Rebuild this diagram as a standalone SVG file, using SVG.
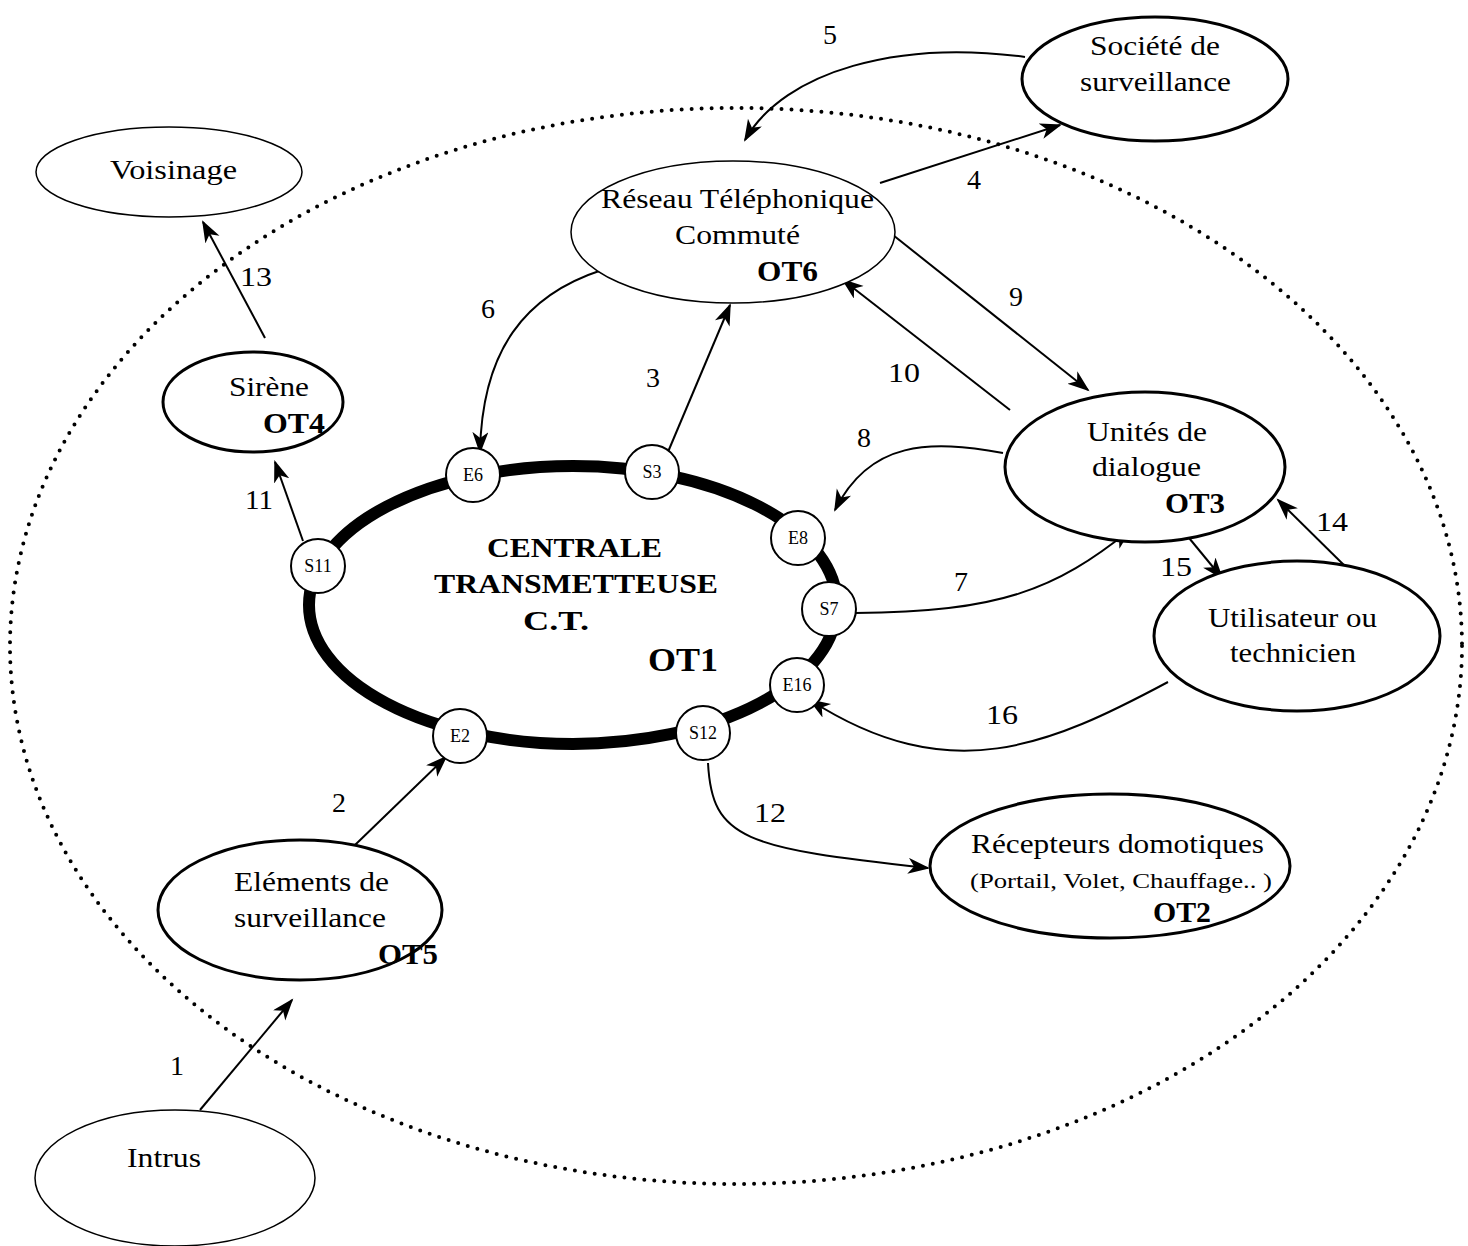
<svg xmlns="http://www.w3.org/2000/svg" width="1468" height="1246" viewBox="0 0 1468 1246">
<style>
text{font-family:"Liberation Serif","Times New Roman",serif;fill:#000;}
.t{font-size:28px;}
.b{font-size:29px;font-weight:bold;}
.p{font-size:18px;text-anchor:middle;}
.n{stroke:#000;fill:#fff;}
.thin{stroke-width:1.5;}
.thick{stroke-width:3;}
.c{fill:none;stroke:#000;stroke-width:2;marker-end:url(#ah);}
.port{fill:#fff;stroke:#000;stroke-width:2;}
</style>
<defs>
<marker id="ah" markerUnits="userSpaceOnUse" markerWidth="24" markerHeight="18" refX="20" refY="8" orient="auto">
<path d="M0,0 L22,8 L0,16 L6,8 z" fill="#000"/>
</marker>
</defs>
<rect width="1468" height="1246" fill="#fff"/>
<ellipse cx="736" cy="646" rx="726" ry="538" fill="none" stroke="#000" stroke-width="4" stroke-dasharray="0 10" stroke-linecap="round"/>

<g id="connectors">
<path class="c" d="M200,1110 L292,1000"/>
<path class="c" d="M355,845 L446,757"/>
<path class="c" d="M265,338 L203,222"/>
<path class="c" d="M303,541 L275,462"/>
<path class="c" d="M602,270 C525,295 482,350 480,452"/>
<path class="c" d="M665,459 L730,305"/>
<path class="c" d="M1025,57 C900,40 785,70 745,140"/>
<path class="c" d="M880,183 L1060,125"/>
<path class="c" d="M893,235 L1088,390"/>
<path class="c" d="M1010,410 L843,280"/>
<path class="c" d="M1003,453 C930,440 870,440 835,510"/>
<path class="c" d="M855,613 C1000,612 1055,590 1130,530"/>
<path class="c" d="M1180,527 L1222,578"/>
<path class="c" d="M1352,573 L1278,500"/>
<path class="c" d="M1168,682 C1050,745 950,790 810,700"/>
<path class="c" d="M708,763 C712,840 745,848 928,868"/>
<text class="t" x="170" y="1075">1</text>
<text class="t" x="332" y="812">2</text>
<text class="t" x="646" y="387">3</text>
<text class="t" x="967" y="189">4</text>
<text class="t" x="823" y="44">5</text>
<text class="t" x="481" y="318">6</text>
<text class="t" x="954" y="591">7</text>
<text class="t" x="857" y="447">8</text>
<text class="t" x="1009" y="306">9</text>
<text class="t" x="888" y="382" textLength="32" lengthAdjust="spacingAndGlyphs">10</text>
<text class="t" x="245" y="509" textLength="28" lengthAdjust="spacingAndGlyphs">11</text>
<text class="t" x="754" y="822" textLength="32" lengthAdjust="spacingAndGlyphs">12</text>
<text class="t" x="240" y="286" textLength="32" lengthAdjust="spacingAndGlyphs">13</text>
<text class="t" x="1316" y="531" textLength="32" lengthAdjust="spacingAndGlyphs">14</text>
<text class="t" x="1160" y="576" textLength="32" lengthAdjust="spacingAndGlyphs">15</text>
<text class="t" x="986" y="724" textLength="32" lengthAdjust="spacingAndGlyphs">16</text>
</g>

<g id="ct">
<ellipse cx="573" cy="605" rx="264" ry="139" fill="none" stroke="#000" stroke-width="12"/>
<text x="487" y="557" font-size="28" font-weight="bold" textLength="175" lengthAdjust="spacingAndGlyphs">CENTRALE</text>
<text x="434" y="593" font-size="28" font-weight="bold" textLength="284" lengthAdjust="spacingAndGlyphs">TRANSMETTEUSE</text>
<text x="523" y="630" font-size="28" font-weight="bold" textLength="66" lengthAdjust="spacingAndGlyphs">C.T.</text>
<text x="648" y="671" font-size="33" font-weight="bold" textLength="70" lengthAdjust="spacingAndGlyphs">OT1</text>
</g>
<g id="port-E6"><circle class="port" cx="473" cy="475" r="27"/><text class="p" x="473" y="481">E6</text></g>
<g id="port-S3"><circle class="port" cx="652" cy="472" r="27"/><text class="p" x="652" y="478">S3</text></g>
<g id="port-E8"><circle class="port" cx="798" cy="538" r="27"/><text class="p" x="798" y="544">E8</text></g>
<g id="port-S7"><circle class="port" cx="829" cy="609" r="27"/><text class="p" x="829" y="615">S7</text></g>
<g id="port-E16"><circle class="port" cx="797" cy="685" r="27"/><text class="p" x="797" y="691">E16</text></g>
<g id="port-E2"><circle class="port" cx="460" cy="736" r="27"/><text class="p" x="460" y="742">E2</text></g>
<g id="port-S12"><circle class="port" cx="703" cy="733" r="27"/><text class="p" x="703" y="739">S12</text></g>
<g id="port-S11"><circle class="port" cx="318" cy="566" r="27"/><text class="p" x="318" y="572">S11</text></g>

<g id="voisinage"><ellipse class="n thin" cx="169" cy="172" rx="133" ry="45"/><text class="t" x="110" y="179" textLength="127" lengthAdjust="spacingAndGlyphs">Voisinage</text></g>
<g id="societe"><ellipse class="n thick" cx="1155" cy="79" rx="133" ry="62"/><text class="t" x="1090" y="55" textLength="130" lengthAdjust="spacingAndGlyphs">Société de</text><text class="t" x="1080" y="91" textLength="151" lengthAdjust="spacingAndGlyphs">surveillance</text></g>
<g id="rtc"><ellipse class="n thin" cx="733" cy="232" rx="162" ry="71"/><text class="t" x="601" y="208" textLength="273" lengthAdjust="spacingAndGlyphs">Réseau Téléphonique</text><text class="t" x="675" y="244" textLength="125" lengthAdjust="spacingAndGlyphs">Commuté</text><text class="b" x="757" y="281" textLength="61" lengthAdjust="spacingAndGlyphs">OT6</text></g>
<g id="sirene"><ellipse class="n thick" cx="253" cy="402" rx="90" ry="50"/><text class="t" x="229" y="396" textLength="80" lengthAdjust="spacingAndGlyphs">Sirène</text><text class="b" x="263" y="433" textLength="62" lengthAdjust="spacingAndGlyphs">OT4</text></g>
<g id="unites"><ellipse class="n thick" cx="1145" cy="467" rx="140" ry="75"/><text class="t" x="1087" y="441" textLength="120" lengthAdjust="spacingAndGlyphs">Unités de</text><text class="t" x="1092" y="476" textLength="109" lengthAdjust="spacingAndGlyphs">dialogue</text><text class="b" x="1165" y="513" textLength="60" lengthAdjust="spacingAndGlyphs">OT3</text></g>
<g id="utilisateur"><ellipse class="n thick" cx="1297" cy="636" rx="143" ry="75"/><text class="t" x="1208" y="627" textLength="169" lengthAdjust="spacingAndGlyphs">Utilisateur ou</text><text class="t" x="1230" y="662" textLength="126" lengthAdjust="spacingAndGlyphs">technicien</text></g>
<g id="recepteurs"><ellipse class="n thick" cx="1110" cy="866" rx="180" ry="72"/><text class="t" x="971" y="853" textLength="293" lengthAdjust="spacingAndGlyphs">Récepteurs domotiques</text><text x="970" y="888" font-size="22" textLength="302" lengthAdjust="spacingAndGlyphs">(Portail, Volet, Chauffage.. )</text><text class="b" x="1153" y="922" textLength="58" lengthAdjust="spacingAndGlyphs">OT2</text></g>
<g id="elements"><ellipse class="n thick" cx="300" cy="910" rx="142" ry="70"/><text class="t" x="234" y="891" textLength="155" lengthAdjust="spacingAndGlyphs">Eléments de</text><text class="t" x="234" y="927" textLength="152" lengthAdjust="spacingAndGlyphs">surveillance</text><text class="b" x="378" y="964" textLength="60" lengthAdjust="spacingAndGlyphs">OT5</text></g>
<g id="intrus"><ellipse class="n thin" cx="175" cy="1178" rx="140" ry="68"/><text class="t" x="127" y="1167" textLength="74" lengthAdjust="spacingAndGlyphs">Intrus</text></g>
</svg>
